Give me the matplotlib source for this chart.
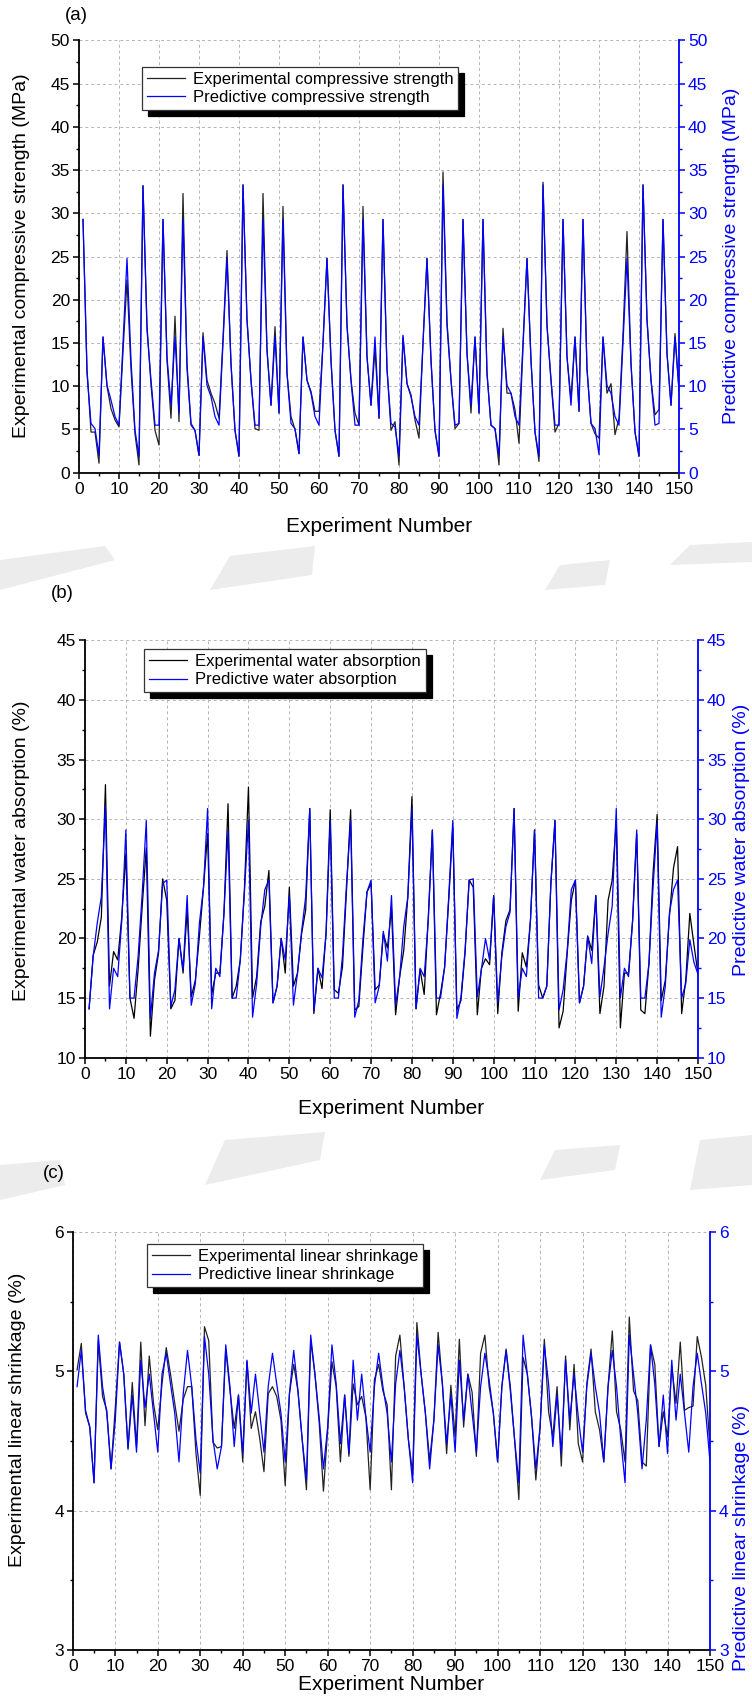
import matplotlib
matplotlib.use("Agg")
import matplotlib.pyplot as plt
from matplotlib.ticker import MultipleLocator
from matplotlib.lines import Line2D
from matplotlib.patches import Polygon

plt.rcParams['font.family'] = ['Liberation Sans', 'DejaVu Sans']

experiment = list(range(1, 151))

# ---------------- (a) compressive strength (MPa) ----------------
cs_exp = [29.3, 12.0, 4.7, 4.7, 1.1, 15.7, 10.0, 7.4, 6.1, 5.3, 14.0, 22.3, 12.0, 4.5, 0.9, 33.2, 17.0, 10.2, 4.9, 3.2, 29.3, 13.0, 6.3, 18.1, 5.9,
          32.3, 12.0, 5.5, 4.9, 2.0, 16.2, 10.7, 9.2, 8.0, 6.3, 15.5, 25.7, 12.6, 4.9, 1.9, 33.3, 17.7, 10.7, 5.1, 4.9, 32.3, 14.2, 7.8, 16.9, 6.9,
          30.8, 11.5, 6.5, 5.0, 2.2, 15.7, 10.7, 9.4, 7.1, 7.1, 15.0, 24.8, 13.0, 4.9, 1.9, 33.3, 17.0, 10.7, 6.9, 5.5, 30.8, 13.4, 7.8, 14.3, 6.3,
          29.3, 12.0, 4.9, 5.9, 0.9, 15.7, 10.3, 9.0, 6.1, 4.0, 15.0, 24.8, 13.0, 4.9, 1.9, 34.8, 17.5, 10.7, 5.1, 5.7, 29.3, 13.8, 6.9, 15.7, 6.9,
          29.3, 11.5, 5.5, 5.1, 0.9, 16.7, 9.2, 9.2, 7.3, 3.4, 14.5, 24.8, 13.0, 4.7, 1.3, 33.6, 17.0, 10.7, 4.7, 5.7, 29.3, 13.4, 8.5, 15.7, 7.1,
          29.3, 12.0, 5.7, 4.5, 4.0, 15.7, 9.2, 10.3, 4.4, 6.3, 16.0, 27.9, 12.6, 4.7, 1.9, 33.3, 17.7, 10.7, 6.7, 7.3, 29.3, 13.8, 7.8, 16.1, 9.5]
cs_pred = [29.3, 11.5, 5.7, 5.1, 2.0, 15.7, 10.1, 8.4, 6.5, 5.5, 15.0, 24.8, 13.0, 4.9, 1.9, 33.2, 16.5, 10.7, 5.5, 5.5, 29.3, 13.4, 7.8, 15.7, 6.9,
           29.3, 12.6, 5.7, 4.9, 2.0, 15.7, 10.1, 8.8, 6.5, 5.5, 15.0, 24.8, 12.6, 4.9, 1.9, 33.3, 17.7, 10.7, 5.5, 5.5, 29.3, 14.2, 7.8, 15.7, 6.9,
           29.3, 11.5, 5.7, 5.1, 2.2, 15.7, 10.7, 9.2, 6.5, 5.5, 15.0, 24.8, 13.0, 4.9, 1.9, 33.3, 17.0, 10.7, 5.5, 5.5, 29.3, 13.4, 7.8, 15.7, 6.3,
           29.3, 12.0, 5.7, 5.3, 2.0, 15.9, 10.3, 8.8, 6.5, 5.5, 15.0, 24.8, 13.0, 4.9, 1.9, 33.3, 17.0, 10.7, 5.5, 5.7, 29.3, 13.8, 7.8, 15.7, 6.9,
           29.3, 11.5, 5.5, 5.1, 2.0, 15.7, 10.1, 9.2, 6.5, 5.5, 15.0, 24.8, 13.0, 4.7, 1.9, 33.3, 17.0, 10.7, 5.5, 5.5, 29.3, 13.4, 7.8, 15.7, 7.1,
           29.3, 12.0, 5.7, 5.1, 2.1, 15.7, 10.1, 9.2, 6.5, 5.5, 15.0, 24.8, 12.6, 4.7, 1.9, 33.3, 17.7, 10.7, 5.5, 5.7, 29.3, 13.8, 7.8, 15.7, 9.5]

# ---------------- (b) water absorption (%) ----------------
wa_exp = [14.1, 18.6, 19.7, 21.8, 32.9, 16.0, 18.9, 18.2, 21.8, 27.1, 15.0, 13.3, 17.4, 22.7, 27.6, 11.8, 16.5, 18.8, 25.0, 23.2, 14.1, 14.8, 20.0, 17.1, 22.4,
          15.1, 16.5, 20.2, 24.3, 28.8, 15.3, 17.1, 17.1, 22.1, 31.3, 15.0, 16.0, 18.2, 24.1, 32.7, 15.0, 16.8, 21.4, 22.7, 25.7, 14.6, 16.0, 20.0, 17.1, 24.3,
          16.0, 17.1, 20.4, 22.4, 30.9, 13.7, 17.5, 15.8, 20.6, 30.8, 15.7, 15.4, 17.6, 24.1, 30.8, 14.0, 14.3, 19.2, 23.9, 24.6, 15.7, 16.1, 20.4, 19.2, 22.5,
          13.6, 16.8, 19.0, 23.5, 31.9, 14.1, 17.4, 15.3, 21.8, 29.1, 13.6, 15.4, 17.6, 23.2, 29.4, 14.0, 14.8, 18.8, 24.9, 24.3, 13.6, 17.5, 18.3, 17.8, 23.6,
          13.7, 18.8, 21.5, 22.4, 30.9, 13.9, 18.8, 17.6, 21.5, 29.1, 16.1, 15.0, 16.0, 24.6, 29.9, 12.5, 13.9, 18.8, 23.2, 24.9, 14.6, 16.0, 20.2, 19.0, 23.6,
          13.7, 16.0, 23.2, 24.9, 29.9, 12.5, 17.1, 17.1, 21.5, 28.8, 14.0, 13.7, 17.9, 25.5, 30.4, 14.8, 16.5, 21.8, 25.9, 27.7, 13.7, 16.5, 22.1, 19.5, 17.0]
wa_pred = [14.1, 18.5, 21.3, 23.5, 31.1, 14.1, 17.5, 16.8, 21.5, 29.1, 15.0, 15.0, 18.5, 23.8, 29.9, 13.3, 17.1, 19.0, 24.6, 24.9, 14.3, 15.7, 20.0, 17.4, 23.6,
           14.4, 16.2, 21.3, 24.3, 30.9, 14.1, 17.5, 16.8, 22.1, 29.1, 15.0, 15.0, 18.2, 23.8, 29.9, 13.4, 16.2, 21.0, 24.1, 24.9, 14.6, 16.0, 20.0, 18.2, 23.6,
           14.4, 17.1, 20.6, 23.5, 30.9, 13.9, 17.5, 16.7, 20.4, 29.9, 15.0, 15.0, 18.5, 24.6, 29.9, 13.4, 14.8, 19.9, 23.9, 24.9, 14.6, 16.0, 20.6, 18.1, 23.6,
           14.4, 16.8, 21.0, 23.5, 30.9, 14.1, 17.5, 16.8, 21.5, 29.1, 15.0, 15.0, 17.6, 23.5, 29.9, 13.3, 15.1, 19.0, 24.9, 25.0, 15.1, 17.4, 20.0, 18.2, 23.6,
           14.6, 18.5, 21.0, 22.2, 30.9, 15.0, 17.5, 16.8, 21.5, 29.1, 15.0, 15.0, 16.0, 24.6, 29.9, 14.0, 15.7, 19.0, 24.1, 24.9, 14.6, 16.0, 20.2, 17.9, 23.6,
           15.1, 17.6, 20.4, 22.7, 30.9, 15.0, 17.5, 16.8, 21.5, 29.1, 15.0, 15.0, 17.9, 24.3, 29.7, 13.4, 16.0, 22.1, 24.1, 24.9, 15.0, 16.2, 19.9, 18.0, 17.0]

# ---------------- (c) linear shrinkage (%) ----------------
ls_exp = [5.01, 5.20, 4.70, 4.60, 4.20, 5.22, 4.82, 4.72, 4.30, 4.74, 5.21, 4.98, 4.44, 4.92, 4.46, 5.21, 4.61, 5.11, 4.77, 4.58, 4.91, 5.17, 4.98, 4.77, 4.57,
          4.80, 4.89, 4.89, 4.41, 4.11, 5.32, 5.22, 4.49, 4.45, 4.46, 5.16, 4.86, 4.59, 4.83, 4.35, 5.07, 4.59, 4.71, 4.52, 4.28, 4.84, 4.89, 4.82, 4.65, 4.18,
          4.84, 5.05, 4.86, 4.51, 4.15, 5.22, 4.98, 4.63, 4.14, 4.58, 5.07, 4.89, 4.35, 4.83, 4.39, 4.91, 4.76, 4.82, 4.67, 4.15, 4.94, 5.05, 4.86, 4.76, 4.15,
          5.11, 5.26, 4.89, 4.51, 4.27, 5.35, 4.98, 4.70, 4.36, 4.65, 5.28, 4.91, 4.41, 4.90, 4.53, 5.23, 4.60, 4.98, 4.85, 4.39, 5.13, 5.26, 4.89, 4.70, 4.35,
          4.89, 5.16, 4.89, 4.51, 4.08, 5.10, 4.98, 4.67, 4.22, 4.60, 5.23, 4.71, 4.53, 4.89, 4.32, 5.11, 4.58, 5.05, 4.48, 4.35, 4.91, 5.16, 4.71, 4.58, 4.35,
          4.89, 5.29, 4.71, 4.58, 4.35, 5.39, 4.86, 4.79, 4.35, 4.32, 5.19, 5.05, 4.46, 4.71, 4.53, 5.03, 4.77, 5.21, 4.72, 4.74, 4.75, 5.25, 5.10, 4.90, 4.45]
ls_pred = [4.89, 5.15, 4.72, 4.60, 4.20, 5.26, 4.89, 4.70, 4.30, 4.65, 5.21, 4.98, 4.45, 4.83, 4.42, 5.08, 4.74, 4.98, 4.70, 4.42, 4.98, 5.13, 4.91, 4.70, 4.35,
           4.84, 5.15, 4.89, 4.51, 4.27, 5.25, 4.98, 4.51, 4.30, 4.46, 5.19, 4.89, 4.46, 4.83, 4.41, 5.08, 4.70, 4.98, 4.70, 4.42, 4.89, 5.13, 4.91, 4.70, 4.35,
           4.84, 5.15, 4.86, 4.51, 4.22, 5.26, 4.98, 4.67, 4.30, 4.60, 5.19, 4.91, 4.48, 4.83, 4.41, 5.08, 4.65, 4.98, 4.67, 4.42, 4.89, 5.13, 4.89, 4.70, 4.35,
           4.91, 5.15, 4.89, 4.51, 4.20, 5.26, 4.98, 4.70, 4.30, 4.65, 5.19, 4.91, 4.48, 4.83, 4.42, 5.08, 4.65, 4.98, 4.70, 4.42, 4.89, 5.13, 4.94, 4.70, 4.35,
           4.89, 5.15, 4.86, 4.51, 4.20, 5.26, 4.98, 4.67, 4.30, 4.60, 5.19, 4.91, 4.46, 4.83, 4.41, 5.08, 4.65, 4.98, 4.67, 4.42, 4.89, 5.13, 4.89, 4.70, 4.35,
           4.89, 5.15, 4.89, 4.51, 4.20, 5.26, 4.98, 4.70, 4.30, 4.65, 5.19, 4.91, 4.46, 4.83, 4.41, 5.08, 4.65, 4.98, 4.70, 4.42, 4.89, 5.13, 4.91, 4.70, 4.35]

panels = [
    dict(tag='(a)', exp=cs_exp, pred=cs_pred, ylim=(0, 50), major=5, minor=2.5,
         legend=('Experimental compressive strength', 'Predictive compressive strength'),
         ylabel_l='Experimental compressive strength (MPa)', ylabel_r='Predictive compressive strength (MPa)',
         box_px=(79, 40.5, 679, 472.7), leg=(0.1045, 0.939), tag_xy=(76, 16),
         yl_xy=(22, 256), yr_xy=(731, 256), xl_y=526, exp_color='#222222'),
    dict(tag='(b)', exp=wa_exp, pred=wa_pred, ylim=(10, 45), major=5, minor=2.5,
         legend=('Experimental water absorption', 'Predictive water absorption'),
         ylabel_l='Experimental water absorption (%)', ylabel_r='Predictive water absorption (%)',
         box_px=(85, 640.4, 698, 1057.7), leg=(0.0962, 0.979), tag_xy=(62, 593),
         yl_xy=(22, 851), yr_xy=(741, 840), xl_y=1109, exp_color='black'),
    dict(tag='(c)', exp=ls_exp, pred=ls_pred, ylim=(3, 6), major=1, minor=0.5,
         legend=('Experimental linear shrinkage', 'Predictive linear shrinkage'),
         ylabel_l='Experimental linear shrinkage (%)', ylabel_r='Predictive linear shrinkage (%)',
         box_px=(72.8, 1232, 710, 1650), leg=(0.1165, 0.971), tag_xy=(54, 1174),
         yl_xy=(18, 1420), yr_xy=(741, 1538), xl_y=1685, exp_color='#222222'),
]

W, H = 752, 1696
fig = plt.figure(figsize=(W / 100, H / 100), dpi=100)
BLUE = '#0000FF'

# faint watermark remnants in the gaps between panels (pixel outlines, top-left origin)
watermark_px = [
    [(0, 590), (0, 560), (105, 546), (115, 560)],
    [(210, 590), (230, 556), (315, 546), (312, 575)],
    [(545, 590), (560, 565), (610, 560), (605, 585)],
    [(670, 565), (690, 545), (752, 542), (752, 562)],
    [(0, 1200), (0, 1165), (60, 1160), (65, 1185)],
    [(205, 1185), (225, 1140), (325, 1132), (320, 1160)],
    [(540, 1180), (555, 1150), (620, 1145), (615, 1170)],
    [(690, 1190), (700, 1140), (752, 1135), (752, 1185)],
]
for poly in watermark_px:
    fig.patches.append(Polygon([(x / W, 1 - y / H) for x, y in poly], closed=True,
                               transform=fig.transFigure, facecolor='#ececec',
                               edgecolor='none', zorder=0))

for p in panels:
    x0, y0, x1, y1 = p['box_px']
    ax = fig.add_axes([x0 / W, 1 - y1 / H, (x1 - x0) / W, (y1 - y0) / H])
    ax.plot(experiment, p['exp'], color=p['exp_color'], lw=0.9, zorder=3)
    ax.plot(experiment, p['pred'], color=BLUE, lw=0.9, zorder=4)
    ax.set_xlim(0, 150)
    ax.set_ylim(*p['ylim'])
    ax.xaxis.set_major_locator(MultipleLocator(10))
    ax.xaxis.set_minor_locator(MultipleLocator(5))
    ax.yaxis.set_major_locator(MultipleLocator(p['major']))
    ax.yaxis.set_minor_locator(MultipleLocator(p['minor']))
    ax.grid(True, which='major', color='#b4b4b4', lw=0.7, ls=(0, (3, 3)))
    ax.set_axisbelow(True)
    for s in ('top', 'right'):
        ax.spines[s].set_visible(False)
    for s in ('left', 'bottom'):
        ax.spines[s].set_linewidth(1.3)
    ax.tick_params(which='major', direction='out', length=4.5, width=1.1, labelsize=12.5, pad=2)
    ax.tick_params(which='minor', direction='out', length=2.5, width=1.0)

    ax2 = ax.twinx()
    ax2.set_ylim(*p['ylim'])
    ax2.yaxis.set_major_locator(MultipleLocator(p['major']))
    ax2.yaxis.set_minor_locator(MultipleLocator(p['minor']))
    for s in ('top', 'left', 'bottom'):
        ax2.spines[s].set_visible(False)
    ax2.spines['right'].set_color(BLUE)
    ax2.spines['right'].set_linewidth(1.3)
    ax2.tick_params(which='major', direction='out', length=4.5, width=1.1, colors=BLUE, labelsize=12.5, pad=2)
    ax2.tick_params(which='minor', direction='out', length=2.5, width=1.0, colors=BLUE)

    handles = [Line2D([], [], color=p['exp_color'], lw=0.9), Line2D([], [], color=BLUE, lw=0.9)]
    leg = ax2.legend(handles, p['legend'], loc='upper left', bbox_to_anchor=p['leg'],
                     borderaxespad=0, fancybox=False, framealpha=1, edgecolor='#333333',
                     shadow={'facecolor': 'black', 'edgecolor': 'black', 'alpha': 1, 'ox': 4.3, 'oy': -4.3},
                     fontsize=12, handlelength=2.3, borderpad=0.3, labelspacing=0.2, handletextpad=0.45)
    leg.get_frame().set_linewidth(0.9)
    leg.set_zorder(10)

    cx = (x0 + x1) / 2
    fig.text(cx / W, 1 - p['xl_y'] / H, 'Experiment Number', ha='center', va='center', fontsize=15)
    fig.text(p['yl_xy'][0] / W, 1 - p['yl_xy'][1] / H, p['ylabel_l'], ha='center', va='center',
             rotation=90, fontsize=14)
    fig.text(p['yr_xy'][0] / W, 1 - p['yr_xy'][1] / H, p['ylabel_r'], ha='center', va='center',
             rotation=90, fontsize=14, color=BLUE)
    fig.text(p['tag_xy'][0] / W, 1 - p['tag_xy'][1] / H, p['tag'], ha='center', va='center', fontsize=13.5)

fig.savefig('out.png', dpi=100)
